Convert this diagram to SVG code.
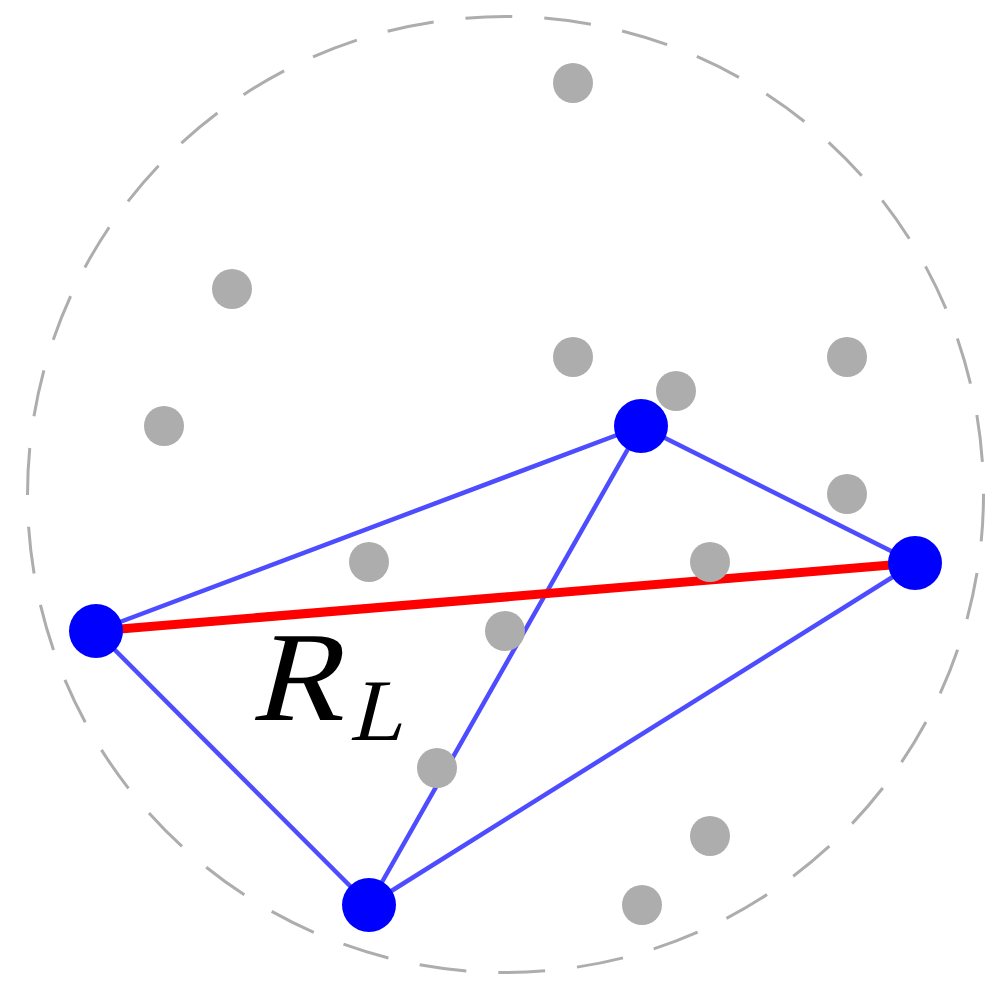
<svg xmlns="http://www.w3.org/2000/svg" width="989" height="982" viewBox="0 0 989 982">
<style>
.edge{stroke:#4d4dff;stroke-width:4.5;fill:none;stroke-linecap:round}
.long{stroke:#ff0000;stroke-width:9;fill:none}
.pt{fill:#adadad}
.v{fill:#0000ff}
.bound{fill:none;stroke:#adadad;stroke-width:3;stroke-dasharray:47 32}
</style>
<rect width="989" height="982" fill="#ffffff"/>
<circle id="boundary" class="bound" cx="505.5" cy="494.5" r="478"/>
<g id="connectors">
<line class="edge" x1="96" y1="631" x2="641" y2="426"/>
<line class="edge" x1="96" y1="631" x2="369" y2="905"/>
<line class="edge" x1="641" y1="426" x2="915" y2="563"/>
<line class="edge" x1="641" y1="426" x2="369" y2="905"/>
<line class="edge" x1="369" y1="905" x2="915" y2="563"/>
<line class="long" x1="96" y1="631" x2="915" y2="563"/>
</g>
<g id="points">
<circle class="pt" cx="573" cy="83" r="20"/>
<circle class="pt" cx="232" cy="289" r="20"/>
<circle class="pt" cx="164" cy="426" r="20"/>
<circle class="pt" cx="573" cy="357" r="20"/>
<circle class="pt" cx="676" cy="391" r="20"/>
<circle class="pt" cx="847" cy="357" r="20"/>
<circle class="pt" cx="847" cy="494" r="20"/>
<circle class="pt" cx="369" cy="562" r="20"/>
<circle class="pt" cx="710" cy="562" r="20"/>
<circle class="pt" cx="505" cy="631" r="20"/>
<circle class="pt" cx="437" cy="768" r="20"/>
<circle class="pt" cx="710" cy="836" r="20"/>
<circle class="pt" cx="642" cy="905" r="20"/>
</g>
<g id="node-left"><circle class="v" cx="96" cy="631" r="27"/></g>
<g id="node-top"><circle class="v" cx="641" cy="426" r="27"/></g>
<g id="node-right"><circle class="v" cx="915" cy="563" r="27"/></g>
<g id="node-bottom"><circle class="v" cx="369" cy="905" r="27"/></g>
<g id="label" transform="translate(0,720) skewX(-14) translate(0,-720)">
<text x="250" y="720" font-family="'Liberation Serif', serif" font-size="128" fill="#000" textLength="92" lengthAdjust="spacingAndGlyphs">R</text>
<text x="354" y="740" font-family="'Liberation Serif', serif" font-size="88" fill="#000">L</text>
</g>
</svg>
